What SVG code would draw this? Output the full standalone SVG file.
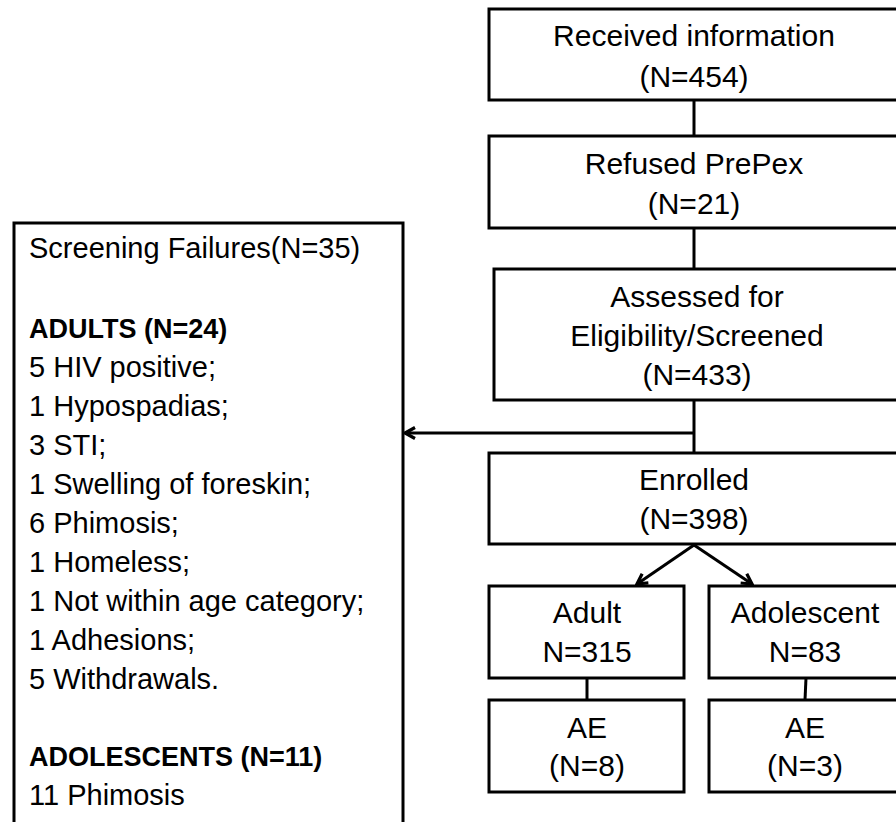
<svg xmlns="http://www.w3.org/2000/svg" width="896" height="822" viewBox="0 0 896 822">
<defs>
<marker id="arr" viewBox="0 0 14 14" refX="12" refY="7" markerWidth="14" markerHeight="14" markerUnits="userSpaceOnUse" orient="auto">
<path d="M2,1.5 L12,7 L2,12.5" fill="none" stroke="#000" stroke-width="3.2" stroke-linejoin="miter"/>
</marker>
<style>
rect{fill:#fff;stroke:#000;stroke-width:3}
text{font-family:"Liberation Sans",Arial,sans-serif;font-size:29px;fill:#000}
.c{text-anchor:middle;font-size:30px}
.b{font-weight:bold;font-size:27px}
.ln{fill:none;stroke:#000;stroke-width:3}
</style>
</defs>
<rect x="0" y="0" width="896" height="822" style="stroke:none"/>
<g id="connectors">
<line class="ln" x1="694" y1="100" x2="694" y2="136"/>
<line class="ln" x1="694" y1="228" x2="694" y2="269"/>
<line class="ln" x1="694" y1="400" x2="694" y2="453"/>
<line class="ln" x1="694" y1="433" x2="405" y2="433" marker-end="url(#arr)"/>
<line class="ln" x1="694" y1="545" x2="637" y2="584" marker-end="url(#arr)"/>
<line class="ln" x1="694" y1="545" x2="752" y2="584" marker-end="url(#arr)"/>
<line class="ln" x1="587" y1="678" x2="587" y2="700"/>
<line class="ln" x1="806" y1="678" x2="805" y2="700"/>
</g>
<g id="received">
<rect x="489" y="9" width="412" height="91"/>
<text class="c" x="694" y="46">Received information</text>
<text class="c" x="694" y="87">(N=454)</text>
</g>
<g id="refused">
<rect x="489" y="136" width="412" height="92"/>
<text class="c" x="694" y="174">Refused PrePex</text>
<text class="c" x="694" y="214">(N=21)</text>
</g>
<g id="assessed">
<rect x="494" y="269" width="410" height="131"/>
<text class="c" x="697" y="307">Assessed for</text>
<text class="c" x="697" y="346">Eligibility/Screened</text>
<text class="c" x="697" y="385">(N=433)</text>
</g>
<g id="enrolled">
<rect x="489" y="453" width="412" height="91"/>
<text class="c" x="694" y="490">Enrolled</text>
<text class="c" x="694" y="529">(N=398)</text>
</g>
<g id="adult">
<rect x="489" y="586" width="195" height="92"/>
<text class="c" x="587" y="623">Adult</text>
<text class="c" x="587" y="662">N=315</text>
</g>
<g id="adolescent">
<rect x="709" y="586" width="192" height="92"/>
<text class="c" x="805" y="623">Adolescent</text>
<text class="c" x="805" y="662">N=83</text>
</g>
<g id="ae-adult">
<rect x="489" y="700" width="195" height="92"/>
<text class="c" x="587" y="738">AE</text>
<text class="c" x="587" y="776">(N=8)</text>
</g>
<g id="ae-adolescent">
<rect x="709" y="700" width="192" height="92"/>
<text class="c" x="805" y="738">AE</text>
<text class="c" x="805" y="776">(N=3)</text>
</g>
<g id="screening-failures">
<rect x="14" y="223" width="389" height="610"/>
<text x="29" y="258">Screening Failures(N=35)</text>
<text class="b" x="29" y="338">ADULTS (N=24)</text>
<text x="29" y="377">5 HIV positive;</text>
<text x="29" y="416">1 Hypospadias;</text>
<text x="29" y="455">3 STI;</text>
<text x="29" y="494">1 Swelling of foreskin;</text>
<text x="29" y="533">6 Phimosis;</text>
<text x="29" y="572">1 Homeless;</text>
<text x="29" y="611">1 Not within age category;</text>
<text x="29" y="650">1 Adhesions;</text>
<text x="29" y="689">5 Withdrawals.</text>
<text class="b" x="29" y="766">ADOLESCENTS (N=11)</text>
<text x="29" y="805">11 Phimosis</text>
</g>
</svg>
